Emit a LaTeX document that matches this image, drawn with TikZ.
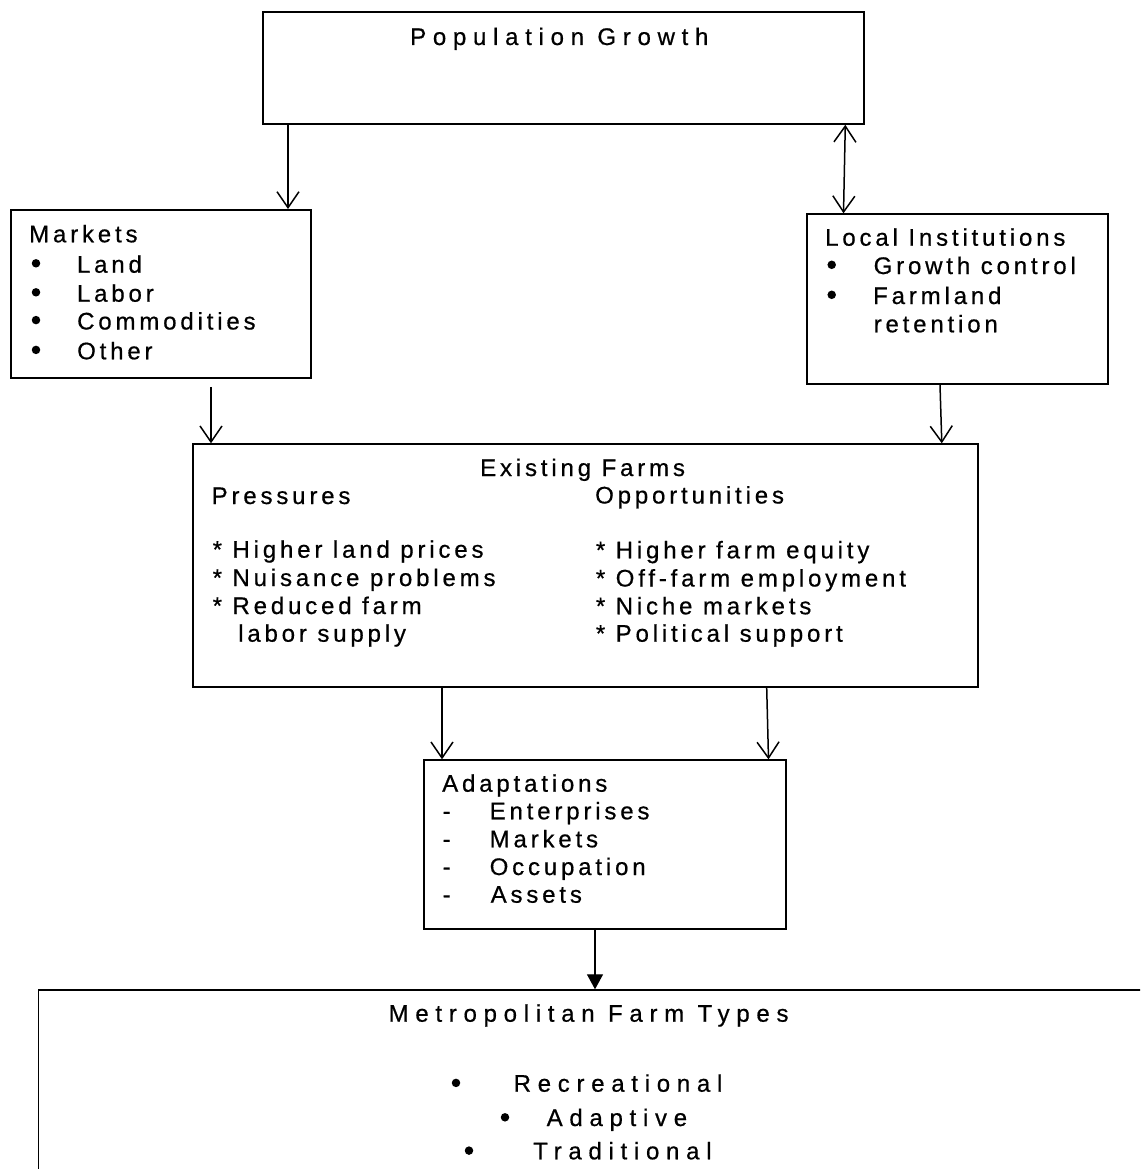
\documentclass[tikz,border=0pt]{standalone}
\usepackage{fontspec}
\setmainfont{Liberation Sans}
\newfontfamily\tightf[LetterSpace=16,FakeBold=0.6]{Liberation Sans}
\newfontfamily\widef[LetterSpace=28,FakeBold=0.6]{Liberation Sans}
\usetikzlibrary{arrows.meta}
\begin{document}
\begin{tikzpicture}[x=1pt,y=-1pt,
  box/.style={draw, line width=1.8pt, rectangle, inner sep=0pt, anchor=north west},
  txt/.style={inner sep=0pt, anchor=base west, font=\fontsize{24}{28}\selectfont\tightf},
  wtxt/.style={inner sep=0pt, anchor=base west, font=\fontsize{24}{28}\selectfont\widef},
  bul/.style={circle, fill=black, inner sep=0pt, minimum size=8.5pt},
  arr/.style={line width=1.5pt, -{Straight Barb[length=16pt,width=22pt]}},
  darr/.style={line width=1.5pt, {Straight Barb[length=16pt,width=22pt]}-{Straight Barb[length=16pt,width=22pt]}},
  farr/.style={line width=1.3pt, -{Triangle[length=15pt,width=16pt]}}]
\useasboundingbox (0,0) rectangle (1140,1169);
\clip (0,0) rectangle (1140,1169);
% boxes
\node[box, minimum width=601pt, minimum height=112pt] (pop) at (262,11) {};
\node[box, minimum width=300pt, minimum height=168pt] (markets) at (10,209) {};
\node[box, minimum width=301pt, minimum height=170pt] (local) at (806,213.3) {};
\node[box, minimum width=784.7pt, minimum height=242.7pt] (exist) at (192,443.3) {};
\node[box, minimum width=362.3pt, minimum height=169pt] (adapt) at (422.7,759.3) {};
\node[box, minimum width=1140pt, minimum height=220pt] (metro) at (37.5,989.3) {};
% connectors
\draw[arr] ([xshift=26pt]pop.south west) -- ([xshift=278pt]markets.north west);
\draw[darr] ([xshift=-19.5pt]pop.south east) -- ([xshift=37.5pt]local.north west);
\draw[arr, shorten <=8pt] ([xshift=201pt]markets.south west) -- ([xshift=19pt]exist.north west);
\draw[arr] ([xshift=134pt]local.south west) -- ([xshift=-36.7pt]exist.north east);
\draw[arr] ([xshift=250pt]exist.south west) -- ([xshift=19.3pt]adapt.north west);
\draw[arr] ([xshift=574.7pt]exist.south west) -- ([xshift=-18.3pt]adapt.north east);
\draw[farr] ([xshift=172.3pt]adapt.south west) -- ([xshift=557.5pt]metro.north west);
% Population Growth
\node[wtxt] (popT) at (410,45) {Population Growth};
% Markets
\node[txt] (mT) at (29,242.3) {Markets};
\node[bul] (mb1) at (36,263.3) {};
\node[bul] (mb2) at (36,292.3) {};
\node[bul] (mb3) at (36,320.1) {};
\node[bul] (mb4) at (36,349.9) {};
\node[txt] (m1) at (76.8,272.7) {Land};
\node[txt] (m2) at (76.8,301.7) {Labor};
\node[txt] (m3) at (77,329.5) {Commodities};
\node[txt] (m4) at (77,359.3) {Other};
% Local Institutions
\node[txt] (lT) at (825,245.7) {Local Institutions};
\node[bul] (lb1) at (831.7,264.8) {};
\node[bul] (lb2) at (831.7,294.8) {};
\node[txt] (l1) at (873.5,274) {Growth control};
\node[txt] (l2) at (873,304) {Farmland};
\node[txt] (l3) at (873.5,332.3) {retention};
% Existing Farms
\node[txt] (eT) at (480,476) {Existing Farms};
\node[txt] (eP) at (211.5,504) {Pressures};
\node[txt] (eO) at (595,503.5) {Opportunities};
\node[txt] (p1) at (212.5,557.7) {* Higher land prices};
\node[txt] (p2) at (212.5,586) {* Nuisance problems};
\node[txt] (p3) at (212.5,614) {* Reduced farm};
\node[txt] (p4) at (238,641.7) {labor supply};
\node[txt] (o1) at (595.7,558.3) {* Higher farm equity};
\node[txt] (o2) at (595.7,586.5) {* Off-farm employment};
\node[txt] (o3) at (595.7,614.3) {* Niche markets};
\node[txt] (o4) at (595.7,641.7) {* Political support};
% Adaptations
\node[txt] (aT) at (442,791.7) {Adaptations};
\node[txt] (ad1) at (442.5,819.3) {-};
\node[txt] (ad2) at (442.5,847.3) {-};
\node[txt] (ad3) at (442.5,875) {-};
\node[txt] (ad4) at (442.5,902.7) {-};
\node[txt] (a1) at (489.5,819.3) {Enterprises};
\node[txt] (a2) at (489.5,847.3) {Markets};
\node[txt] (a3) at (489.5,875) {Occupation};
\node[txt] (a4) at (490.5,902.7) {Assets};
% Metropolitan Farm Types
\node[wtxt] (tT) at (388.5,1021.7) {Metropolitan Farm Types};
\node[bul] (tb1) at (456,1082.9) {};
\node[bul] (tb2) at (505,1117.3) {};
\node[bul] (tb3) at (469,1150.6) {};
\node[wtxt] (t1) at (513.5,1091.7) {Recreational};
\node[wtxt] (t2) at (546.5,1126) {Adaptive};
\node[wtxt] (t3) at (533,1159.3) {Traditional};
\end{tikzpicture}
\end{document}
